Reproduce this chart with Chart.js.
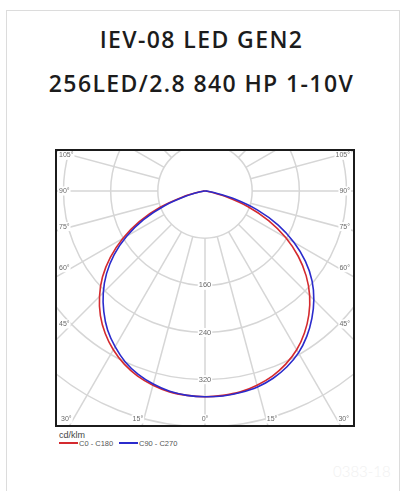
<!DOCTYPE html>
<html>
<head>
<meta charset="utf-8">
<title>IEV-08 LED GEN2 - polar diagram</title>
<script src="https://cdn.jsdelivr.net/npm/chart.js@4"></script>
<style>
    body { margin: 0; width: 403px; height: 491px; overflow: hidden; position: relative; background: #fff; }
    .card { position: absolute; left: 6px; top: 10px; width: 392px; height: 520px; border: 1px solid #dcdcdc; }
    .title { position: absolute; left: 0; width: 403px; text-align: center; font-family: "Open Sans", sans-serif; font-weight: 600;
             font-size: 23px; line-height: 23px; letter-spacing: 1.4px; color: #1c1c1c; white-space: nowrap; }
    .frame { position: absolute; left: 55px; top: 149px; border: 2px solid #1b1b1b; }
    .unit { position: absolute; left: 59px; top: 430px; font: 9px "Liberation Sans", sans-serif; color: #444; }
    .legend { position: absolute; top: 439px; font: 7.5px "Liberation Sans", sans-serif; color: #555; white-space: nowrap; }
    .legend i { display: inline-block; width: 19px; height: 2px; vertical-align: middle; margin-right: 1px; position: relative; top: -1px; }
    .mark { position: absolute; left: 333px; top: 462px; font: 300 15px Lato, sans-serif; color: #f1f1f1; }
</style>
</head>
<body>
<div class="card"></div>
<div class="title" style="top:28px">IEV-08 LED GEN2</div>
<div class="title" style="top:72px">256LED/2.8 840 HP 1-10V</div>
<div class="frame"><canvas id="chart" width="296" height="274" style="display:block"></canvas></div>
<div class="unit">cd/klm</div>
<div class="legend" style="left:59px"><i style="background:#d42a2f"></i>C0 - C180</div>
<div class="legend" style="left:119px"><i style="background:#2b2bcc"></i>C90 - C270</div>
<div class="mark">0383-18</div>
<script>
    // gamma angles (0 = straight down), cd/klm
    const angles = [0, 5, 10, 15, 20, 25, 30, 35, 40, 45, 50, 55, 60, 65, 70, 75, 80, 85, 90];
    const c0   = [349, 348, 346, 341, 334, 324, 311, 294, 274, 251, 224, 193, 158, 119, 77, 35, 10, 2, 0];
    const c180 = [349, 348, 346, 341, 334, 324, 311, 295, 276, 253, 227, 196, 161, 123, 81, 39, 12, 3, 0];
    const c90  = [349, 349, 347, 344, 338, 329, 317, 301, 282, 261, 237, 208, 174, 137, 95, 50, 15, 3, 0];
    const c270 = [349, 348, 345, 339, 331, 320, 305, 288, 267, 244, 218, 188, 153, 115, 73, 32, 10, 2, 0];

    const rings = [80, 160, 240, 320, 400, 480];
    const ringLabels = [160, 240, 320];
    const sideAngles = [45, 60, 75, 90, 105];
    const bottomAngles = [0, 15, 30];

    const rad = (d) => d * Math.PI / 180;

    // left half goes 90 -> 0, right half 0 -> 90
    const toXY = (left, right) => {
        const pts = [];
        for (let i = angles.length - 1; i >= 0; i--) {
            const a = rad(angles[i]);
            pts.push({ x: -left[i] * Math.sin(a), y: -left[i] * Math.cos(a) });
        }
        for (let i = 1; i < angles.length; i++) {
            const a = rad(angles[i]);
            pts.push({ x: right[i] * Math.sin(a), y: -right[i] * Math.cos(a) });
        }
        return pts;
    };

    const labelBox = (ctx, text, x, y, align) => {
        const w = ctx.measureText(text).width;
        let x0 = align === 'left' ? x : align === 'right' ? x - w : x - w / 2;
        ctx.fillStyle = '#fff';
        ctx.fillRect(x0 - 1, y - 4.5, w + 2, 9);
        ctx.fillStyle = '#6a6a6a';
        ctx.textAlign = 'left';
        ctx.fillText(text, x0, y);
    };

    const polarGrid = {
        id: 'polarGrid',
        beforeDatasetsDraw(chart) {
            const { ctx, chartArea: ca, scales: { x, y } } = chart;
            const cx = x.getPixelForValue(0), cy = y.getPixelForValue(0);
            const k = x.getPixelForValue(100) - cx;   // px per 100 cd/klm
            ctx.save();
            ctx.beginPath();
            ctx.rect(ca.left, ca.top, ca.width, ca.height);
            ctx.clip();
            ctx.strokeStyle = '#d6d6d6';
            ctx.lineWidth = 1.5;
            rings.forEach(r => {
                ctx.beginPath();
                ctx.arc(cx, cy, r * k / 100, 0, Math.PI * 2);
                ctx.stroke();
            });
            const r0 = rings[0] * k / 100;
            for (let a = 0; a < 360; a += 15) {
                const t = rad(a);
                ctx.beginPath();
                ctx.moveTo(cx + r0 * Math.sin(t), cy + r0 * Math.cos(t));
                ctx.lineTo(cx + 900 * Math.sin(t), cy + 900 * Math.cos(t));
                ctx.stroke();
            }

            ctx.font = '7px "Liberation Sans", sans-serif';
            ctx.textBaseline = 'middle';
            const d = cx - ca.left - 15;
            sideAngles.forEach(a => {
                const t = rad(a);
                const ly = cy + d * Math.cos(t) / Math.sin(t);
                labelBox(ctx, a + '°', ca.left + 2, ly, 'left');
                labelBox(ctx, a + '°', ca.right - 3, ly, 'right');
            });
            const by = ca.bottom - 6;
            bottomAngles.forEach(a => {
                const off = (ca.bottom - cy) * Math.tan(rad(a)) * 1.07;
                const w = ctx.measureText(a + '°').width;
                const xl = Math.max(cx - off, ca.left + 4 + w / 2);
                const xr = Math.min(cx + off, ca.right - 4 - w / 2);
                labelBox(ctx, a + '°', xl, by, 'center');
                if (a) labelBox(ctx, a + '°', xr, by, 'center');
            });
            ctx.font = '7.5px "Liberation Sans", sans-serif';
            ringLabels.forEach(r => labelBox(ctx, String(r), cx, cy + r * k / 100, 'center'));
            ctx.restore();
        }
    };

    new Chart(document.getElementById('chart'), {
        type: 'scatter',
        data: {
            datasets: [
                { label: 'C0 - C180', data: toXY(c180, c0), borderColor: '#d42a2f', order: 2 },
                { label: 'C90 - C270', data: toXY(c270, c90), borderColor: '#2b2bcc', order: 1 }
            ]
        },
        options: {
            responsive: false,
            animation: false,
            events: [],
            layout: { padding: 0 },
            datasets: {
                scatter: { showLine: true, pointRadius: 0, borderWidth: 1.6, tension: 0.3, fill: false }
            },
            scales: {
                x: { type: 'linear', min: -251, max: 251, display: false },
                y: { type: 'linear', min: -396.9, max: 67.8, display: false }
            },
            plugins: { legend: { display: false }, tooltip: { enabled: false } }
        },
        plugins: [polarGrid]
    });
</script>
</body>
</html>
